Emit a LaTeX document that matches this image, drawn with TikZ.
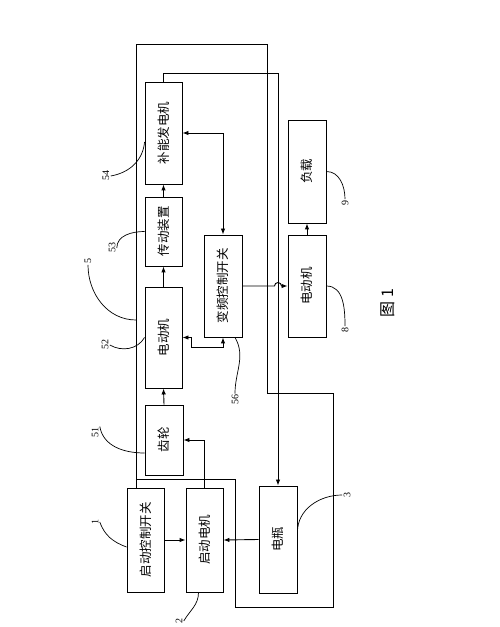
\documentclass[tikz,border=0pt]{standalone}
\usepackage{fontspec}
\setmainfont{Liberation Serif}
\newfontfamily\cjk{Noto Sans CJK SC}
\usetikzlibrary{arrows.meta,calc}

\tikzset{
blk/.style={draw,line width=.9pt,minimum width=37pt,inner sep=0pt,
  font=\cjk\fontsize{12.5}{12.5}\selectfont},
num/.style={rotate=90,inner sep=1pt,font=\fontsize{10}{10}\selectfont},
arr/.style={-{Latex[length=6pt,width=4.5pt]}},
twoarr/.style={{Latex[length=6pt,width=4.5pt]}-{Latex[length=6pt,width=4.5pt]}},
}
\newcommand{\uptext}[1]{\rotatebox{90}{#1}}

\begin{document}
\begin{tikzpicture}[x=1pt,y=1pt,line width=.9pt]
\useasboundingbox (0,0) rectangle (500,627);

% Unit 5
\node[blk,minimum height=102pt] (gen) at (163.5,494) {\uptext{补能发电机}};
\node[blk,minimum height=69pt] (trans) at (163.5,395.5) {\uptext{传动装置}};
\node[blk,minimum height=101pt] (motor) at (163.5,289.5) {\uptext{电动机}};
\node[blk,minimum width=38pt,minimum height=70pt] (gear) at (164,187) {\uptext{齿轮}};
\node[blk,minimum width=38pt,minimum height=102pt] (inv) at (223,341) {\uptext{变频控制开关}};

% Start
\node[blk,minimum height=104pt] (sw) at (145.5,87) {\uptext{启动控制开关}};
\node[blk,minimum height=104pt] (starter) at (204.5,87) {\uptext{启动电机}};
\node[blk,minimum width=38pt,minimum height=107pt] (batt) at (278,87.5) {\uptext{电瓶}};

% Load side
\node[blk,minimum width=38pt,minimum height=103pt] (load) at (307,455.5) {\uptext{负载}};
\node[blk,minimum width=38pt,minimum height=102pt] (motorb) at (307,341) {\uptext{电动机}};

% Corners
\coordinate (tl) at (136,583);
\coordinate (tr) at (267,583);
\coordinate (c1) at (333,234);
\coordinate (c2) at (235,20);
\coordinate (c3) at (136,148);
\coordinate (k1) at (278,554);
\coordinate (m1) at (191,280);
\coordinate (hop) at (274.5,341);
\coordinate (j5) at (136,307);

% Connections
\draw[arr] (gear.north) -- (motor.south);
\draw[arr] (motor.north) -- (trans.south);
\draw[arr] (trans.north) -- (gen.south);
\draw[twoarr] (gen.east) -| (inv.north);
\draw[twoarr] (motor.east) -| (m1) -| (inv.south);
\draw[arr] (inv.east) -- (hop) arc[start angle=180,end angle=0,radius=3.5] -- (motorb.west);
\draw[arr] (motorb.north) -- (load.south);
\draw[arr] (sw.east) -- (starter.west);
\draw[arr] (batt.west) -- (starter.east);
\draw[arr] (starter.north) |- (gear.east);
\draw[arr] (gen.north) |- (k1) -- (batt.north);
\draw (sw.north -| tl) -- (tl) -- (tr) |- (c1) |- (c2) |- (c3);

% Reference numbers
\node[num] (l54) at (106,451) {54};
\node[num] (l53) at (112,379) {53};
\node[num] (l5) at (88,366) {5};
\node[num] (l52) at (105,282) {52};
\node[num] (l51) at (95,194) {51};
\node[num] (l1) at (95,105) {1};
\node[num] (l2) at (179,6) {2};
\node[num] (l3) at (347,132) {3};
\node[num] (l56) at (235,227) {56};
\node[num] (l9) at (345,424) {9};
\node[num] (l8) at (345,297) {8};

\draw[line width=.7pt] (l54.south) to[out=10,in=-95] ($(gen.west)+(0,-9)$);
\draw[line width=.7pt] (l53.south) to[out=90,in=180] (trans.west);
\draw[line width=.7pt] (l5.west) to[out=-90,in=180] (j5);
\draw[line width=.7pt] (l52.south) to[out=-30,in=-120] (motor.west);
\draw[line width=.7pt] (l51.south east) to[out=-80,in=180] ($(gear.west)+(0,-13)$);
\draw[line width=.7pt] (l1.south) to[out=-70,in=160] ($(sw.west)+(0,-7)$);
\draw[line width=.7pt] ($(starter.south)+(-6,0)$) to[out=-90,in=60] (l2.south);
\draw[line width=.7pt] (l3.north) to[out=180,in=90] ($(batt.east)+(0,7.5)$);
\draw[line width=.7pt] ($(inv.south)+(12,0)$) to[out=-60,in=90] (l56.east);
\draw[line width=.7pt] (load.east) to[out=0,in=90] (l9.east);
\draw[line width=.7pt] (motorb.east) to[out=0,in=90] (l8.east);

% Caption
\node[rotate=90,font=\cjk\fontsize{16}{16}\selectfont] (fig) at (388,324) {图 1};
\end{tikzpicture}
\end{document}
